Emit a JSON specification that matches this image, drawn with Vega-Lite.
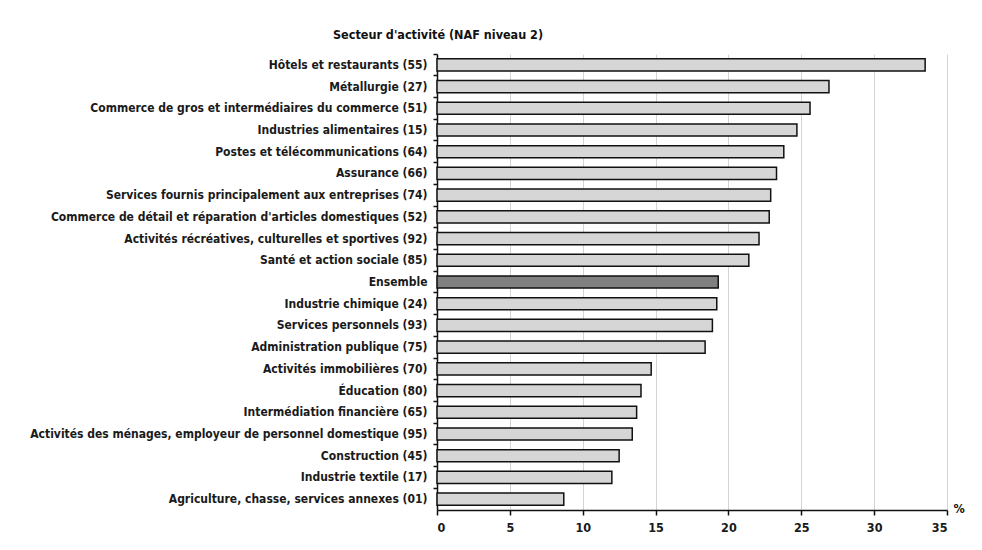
{
  "$schema": "https://vega.github.io/schema/vega-lite/v6.json",
  "autosize": "none",
  "width": 510,
  "height": 456,
  "padding": {"left": 437, "top": 54, "right": 35, "bottom": 40},
  "background": "white",
  "title": {
    "text": "Secteur d'activité (NAF niveau 2)",
    "anchor": "start",
    "frame": "group",
    "dx": -104,
    "offset": 12,
    "font": "'DejaVu Sans Condensed', 'DejaVu Sans', sans-serif",
    "fontSize": 12.5,
    "fontWeight": "bold",
    "color": "#111"
  },
  "data": {
    "values": [
      {"secteur": "Hôtels et restaurants (55)", "pct": 33.5, "type": "secteur"},
      {"secteur": "Métallurgie (27)", "pct": 26.9, "type": "secteur"},
      {"secteur": "Commerce de gros et intermédiaires du commerce (51)", "pct": 25.6, "type": "secteur"},
      {"secteur": "Industries alimentaires (15)", "pct": 24.7, "type": "secteur"},
      {"secteur": "Postes et télécommunications (64)", "pct": 23.8, "type": "secteur"},
      {"secteur": "Assurance (66)", "pct": 23.3, "type": "secteur"},
      {"secteur": "Services fournis principalement aux entreprises (74)", "pct": 22.9, "type": "secteur"},
      {"secteur": "Commerce de détail et réparation d'articles domestiques (52)", "pct": 22.8, "type": "secteur"},
      {"secteur": "Activités récréatives, culturelles et sportives (92)", "pct": 22.1, "type": "secteur"},
      {"secteur": "Santé et action sociale (85)", "pct": 21.4, "type": "secteur"},
      {"secteur": "Ensemble", "pct": 19.3, "type": "ensemble"},
      {"secteur": "Industrie chimique (24)", "pct": 19.2, "type": "secteur"},
      {"secteur": "Services personnels (93)", "pct": 18.9, "type": "secteur"},
      {"secteur": "Administration publique (75)", "pct": 18.4, "type": "secteur"},
      {"secteur": "Activités immobilières (70)", "pct": 14.7, "type": "secteur"},
      {"secteur": "Éducation (80)", "pct": 14.0, "type": "secteur"},
      {"secteur": "Intermédiation financière (65)", "pct": 13.7, "type": "secteur"},
      {"secteur": "Activités des ménages, employeur de personnel domestique (95)", "pct": 13.4, "type": "secteur"},
      {"secteur": "Construction (45)", "pct": 12.5, "type": "secteur"},
      {"secteur": "Industrie textile (17)", "pct": 12.0, "type": "secteur"},
      {"secteur": "Agriculture, chasse, services annexes (01)", "pct": 8.7, "type": "secteur"}
    ]
  },
  "mark": {"type": "bar", "stroke": "#111", "strokeWidth": 1.5, "height": {"band": 0.56}},
  "encoding": {
    "y": {
      "field": "secteur",
      "type": "nominal",
      "sort": null,
      "scale": {"paddingInner": 0, "paddingOuter": 0},
      "axis": {
        "title": null,
        "bandPosition": 0,
        "domainColor": "#111",
        "domainWidth": 1.5,
        "tickColor": "#111",
        "tickSize": 4,
        "tickWidth": 1.5,
        "labelFont": "'DejaVu Sans Condensed', 'DejaVu Sans', sans-serif",
        "labelFontSize": 12,
        "labelFontWeight": "bold",
        "labelColor": "#1a1a1a",
        "labelPadding": 6,
        "labelLimit": 500
      }
    },
    "x": {
      "field": "pct",
      "type": "quantitative",
      "scale": {"domain": [0, 35], "nice": false},
      "axis": {
        "values": [0, 5, 10, 15, 20, 25, 30, 35],
        "title": "%",
        "titleX": 516,
        "titleY": -2,
        "titleAlign": "left",
        "titleBaseline": "middle",
        "titleFont": "'DejaVu Sans Condensed', 'DejaVu Sans', sans-serif",
        "titleFontSize": 12.5,
        "titleFontWeight": "bold",
        "titleColor": "#111",
        "domainColor": "#111",
        "domainWidth": 1.5,
        "tickColor": "#111",
        "tickSize": 5,
        "tickWidth": 1.5,
        "grid": true,
        "gridColor": "#d4d4d4",
        "gridWidth": 1,
        "labelFont": "'DejaVu Sans Condensed', 'DejaVu Sans', sans-serif",
        "labelFontSize": 12.5,
        "labelFontWeight": "bold",
        "labelColor": "#1a1a1a",
        "labelPadding": 6
      }
    },
    "color": {
      "field": "type",
      "type": "nominal",
      "scale": {"domain": ["secteur", "ensemble"], "range": ["#d6d6d6", "#808080"]},
      "legend": null
    }
  },
  "config": {"view": {"stroke": null}}
}
